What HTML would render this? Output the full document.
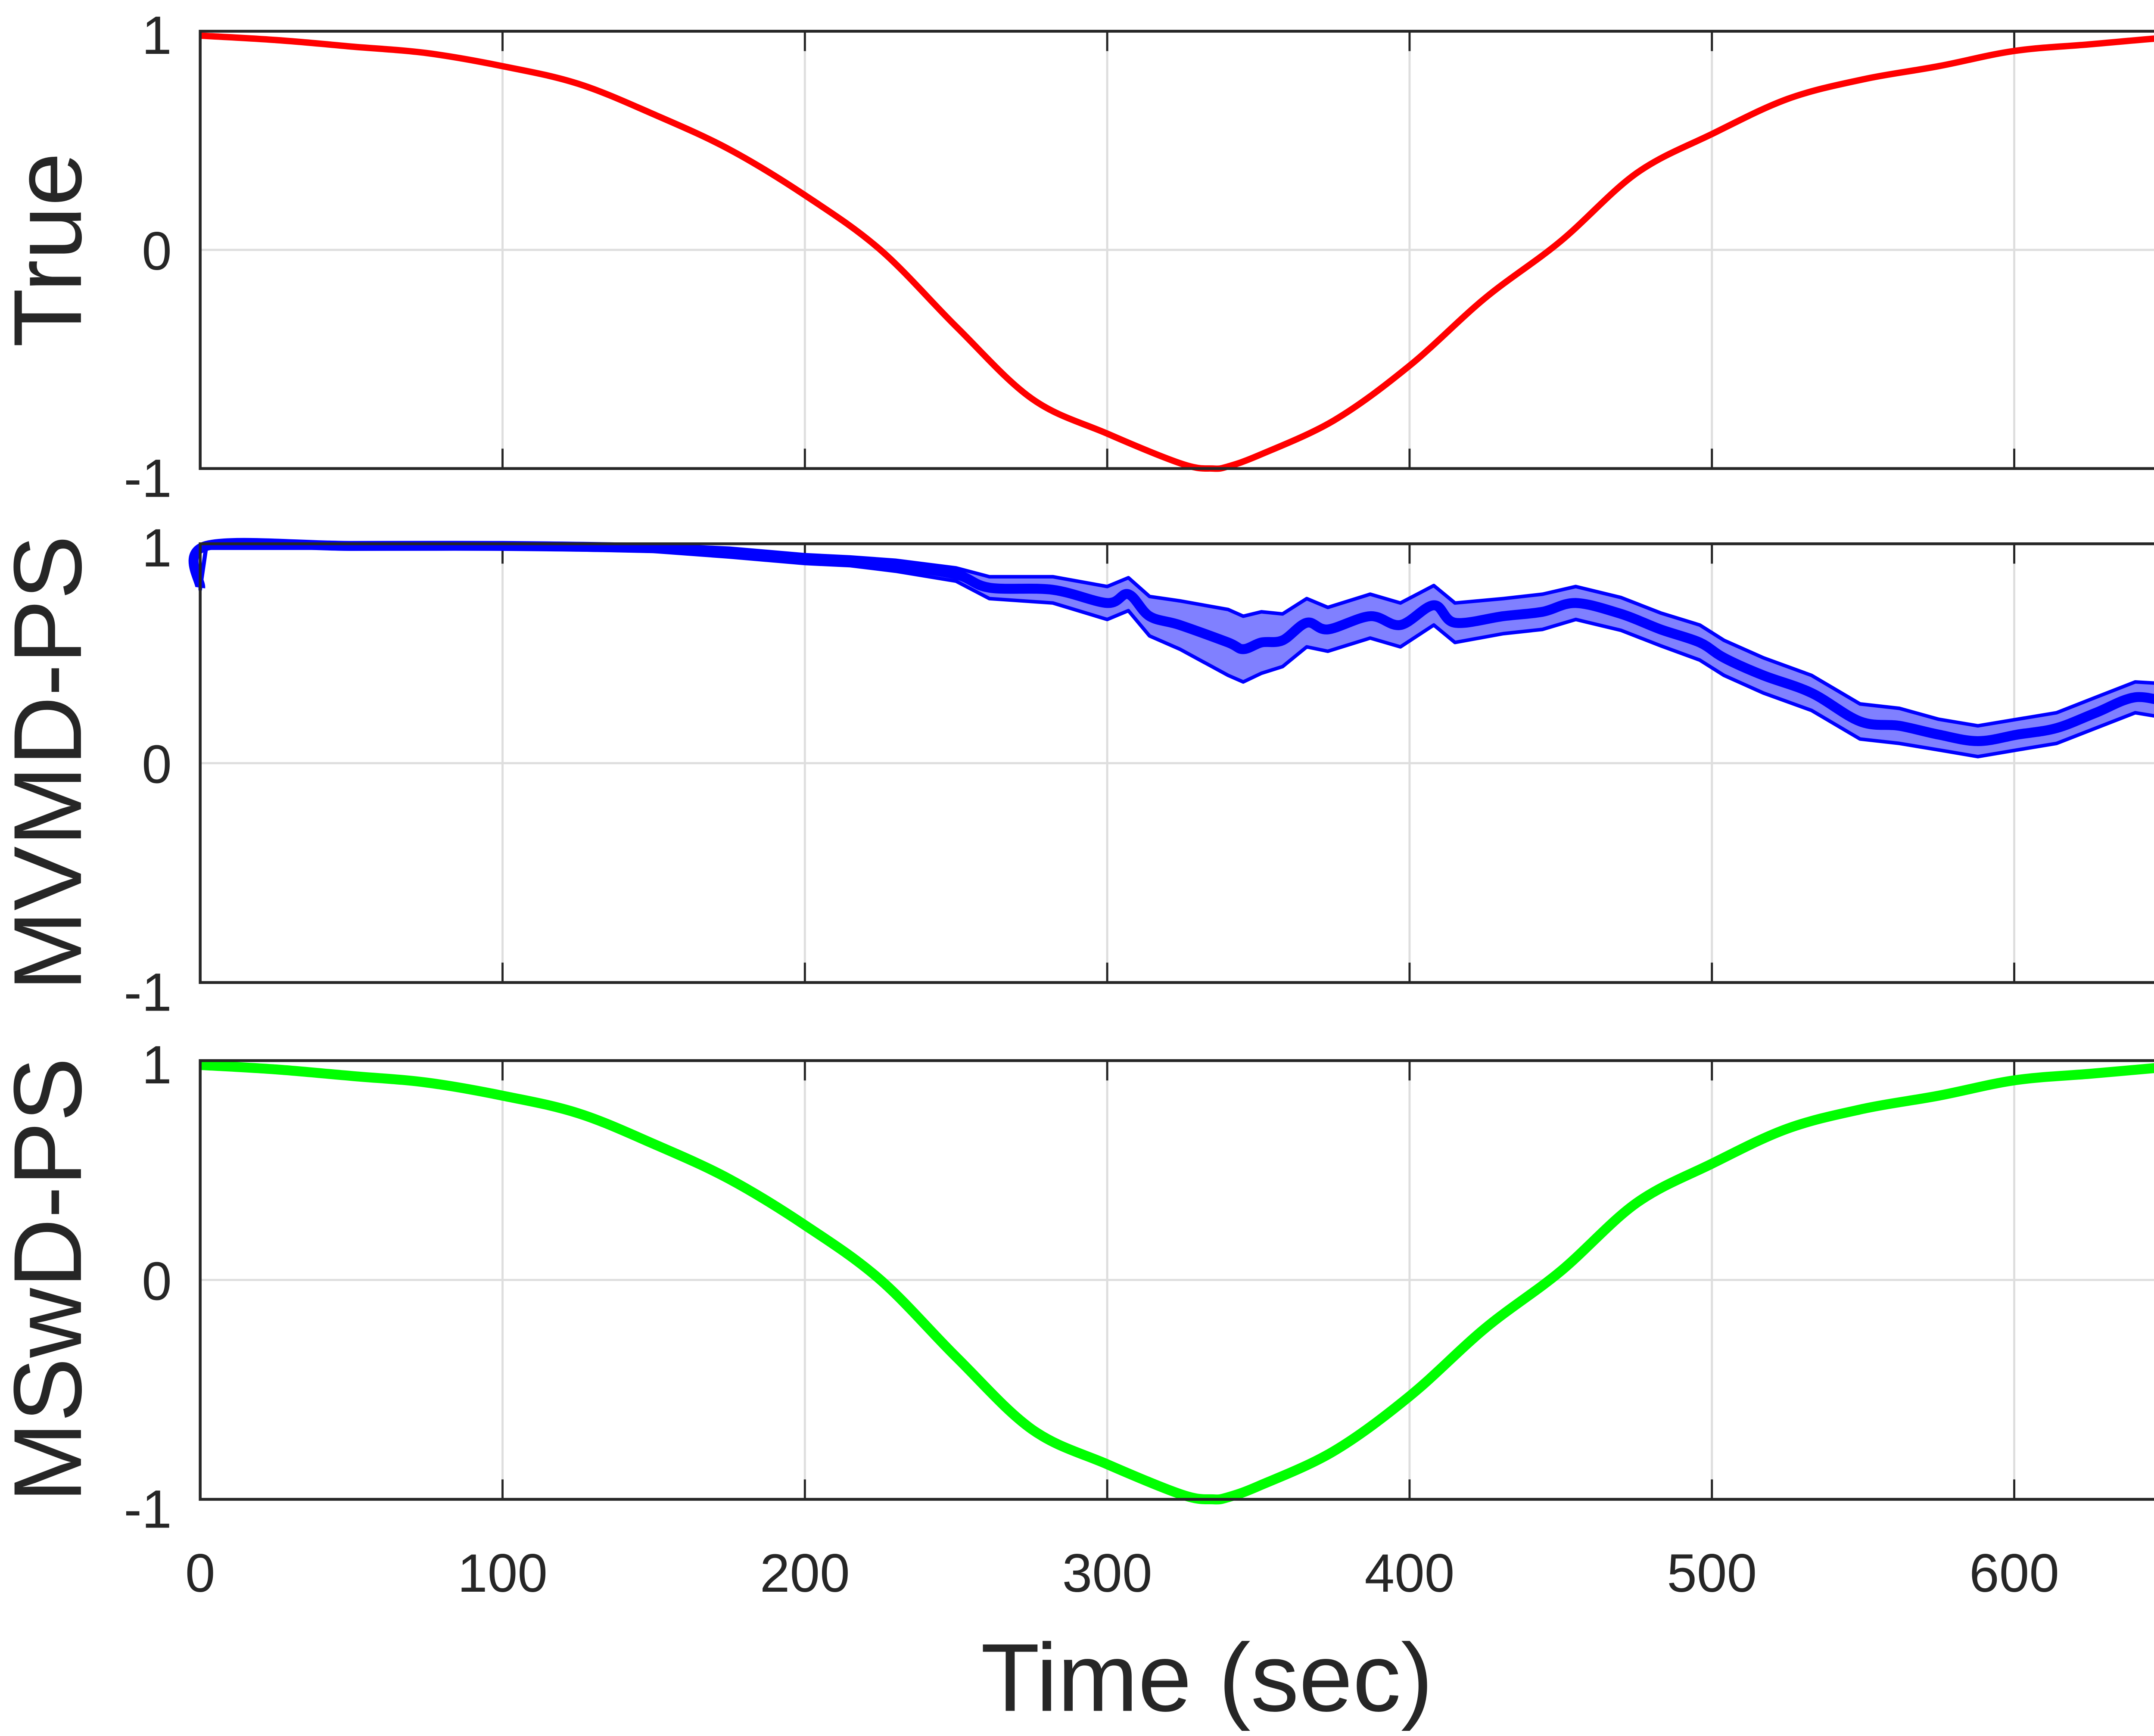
<!DOCTYPE html>
<html><head><meta charset="utf-8">
<style>
html,body{margin:0;padding:0;background:#fff;overflow:hidden;}
svg{display:block;}
text{font-family:"Liberation Sans",Arial,sans-serif;fill:#262626;}
</style></head>
<body>
<svg id="chart" xmlns="http://www.w3.org/2000/svg" width="5168" height="4030" viewBox="0 0 1568 1222.7" preserveAspectRatio="none">
<rect x="0" y="0" width="1568" height="1223" fill="#fff"/>
<g id="plots"></g>
</svg>
<script>
const xTicks = [0,100,200,300,400,500,600];
const yTicks = [-1,0,1];
const panelTitles = ["True","MVMD-PS","MSwD-PS"];
const trueT = [0,25,50,75,100,125,150,175,200,225,250,275,300,325,335,340,350,375,400,425,450,475,500,525,550,575,600,625,650,665];
const trueV = [0.98,0.96,0.93,0.90,0.84,0.76,0.62,0.46,0.25,0.00,-0.35,-0.68,-0.84,-0.98,-1.0,-0.99,-0.94,-0.78,-0.53,-0.22,0.04,0.35,0.53,0.69,0.78,0.84,0.91,0.94,0.97,0.98];
const greenT = [0,25,50,75,100,125,150,175,200,225,250,275,300,325,335,340,350,375,400,425,450,475,500,525,550,575,600,625,650,657,662,665];
const greenV = [0.98,0.96,0.93,0.90,0.84,0.76,0.62,0.46,0.25,0.00,-0.35,-0.68,-0.84,-0.98,-1.0,-0.99,-0.94,-0.78,-0.53,-0.22,0.04,0.35,0.53,0.69,0.78,0.84,0.91,0.94,0.97,0.98,0.97,0.90];
const blueT = [0,2,50,100,150,175,200,215,230,250,261,282,300,307,314,324,340,345,351,358,366,373,387,397,408,415,431,444,455,470,483,496,504,517,533,549,562,575,588,601,614,627,640,653,658,661,663,665];
const blueV = [0.80,0.99,0.99,0.99,0.98,0.96,0.93,0.92,0.90,0.86,0.80,0.79,0.73,0.77,0.67,0.63,0.55,0.52,0.55,0.56,0.64,0.61,0.67,0.63,0.72,0.64,0.67,0.69,0.73,0.68,0.61,0.55,0.48,0.40,0.32,0.19,0.17,0.13,0.10,0.13,0.16,0.23,0.30,0.28,0.35,0.51,0.30,0.06];
const blueBand = [0.01,0.01,0.01,0.01,0.015,0.02,0.02,0.02,0.025,0.03,0.05,0.06,0.075,0.075,0.09,0.11,0.15,0.15,0.14,0.12,0.11,0.1,0.1,0.1,0.09,0.09,0.08,0.08,0.075,0.075,0.075,0.08,0.08,0.08,0.08,0.08,0.08,0.07,0.07,0.07,0.07,0.07,0.07,0.08,0.1,0.15,0.1,0.05];

const NS="http://www.w3.org/2000/svg";
const L=141, R=1557;
const panels=[{top:22,bot:330},{top:383,bot:692},{top:747,bot:1056}];
const xs=t=>L+(t-0)/665*(R-L);
const g=document.getElementById('plots');
function mk(tag,attrs,parent){const e=document.createElementNS(NS,tag);for(const k in attrs)e.setAttribute(k,attrs[k]);(parent||g).appendChild(e);return e;}
// Catmull-Rom smoothing through data points
function path(T,V,ys){
  const P=T.map((t,i)=>[xs(t),ys(V[i])]);
  let d='M'+P[0][0].toFixed(1)+','+P[0][1].toFixed(1);
  for(let i=0;i<P.length-1;i++){
    const p0=P[Math.max(0,i-1)],p1=P[i],p2=P[i+1],p3=P[Math.min(P.length-1,i+2)];
    const c1=[p1[0]+(p2[0]-p0[0])/6,p1[1]+(p2[1]-p0[1])/6];
    const c2=[p2[0]-(p3[0]-p1[0])/6,p2[1]-(p3[1]-p1[1])/6];
    d+=' C'+c1[0].toFixed(1)+','+c1[1].toFixed(1)+' '+c2[0].toFixed(1)+','+c2[1].toFixed(1)+' '+p2[0].toFixed(1)+','+p2[1].toFixed(1);
  }
  return d;
}

panels.forEach((p,pi)=>{
  const ys=v=>p.top+(1-v)/2*(p.bot-p.top);
  const pg=mk('g',{});
  
  
  xTicks.forEach(t=>{
    const ln=mk('line',{x1:xs(t),x2:xs(t),y1:p.top,y2:p.bot,stroke:'#dedede','stroke-width':1.5},pg);
    
    
    const tk=mk('line',{x1:xs(t),x2:xs(t),y1:p.bot,y2:p.bot-14,stroke:'#262626','stroke-width':1.5},pg);
    
    
    const tk2=mk('line',{x1:xs(t),x2:xs(t),y1:p.top,y2:p.top+14,stroke:'#262626','stroke-width':1.5},pg);
    
    
  });
  yTicks.forEach(v=>{
    const ln=mk('line',{x1:L,x2:R,y1:ys(v),y2:ys(v),stroke:'#dedede','stroke-width':1.5},pg);
    
    
    const tx=mk('text',{x:121,y:ys(v)+14+(v===-1?6:0)+(v===1?2:0),'font-size':38,'text-anchor':'end'},pg);
    tx.textContent=String(v);
    
    
  });
  if(pi===0){
    const d=mk('path',{d:path(trueT,trueV,ys),fill:'none',stroke:'#ff0000','stroke-width':4.5,'stroke-linejoin':'round'},pg);
    
    
  } else if(pi===1){
    const up=blueT.map((t,i)=>xs(t).toFixed(1)+','+ys(blueV[i]+blueBand[i]).toFixed(1));
    const dn=blueT.map((t,i)=>xs(t).toFixed(1)+','+ys(blueV[i]-blueBand[i]).toFixed(1)).reverse();
    const band=mk('polygon',{points:up.concat(dn).join(' '),fill:'#8080ff',stroke:'#0000ff','stroke-width':2.5,'stroke-linejoin':'round'},pg);
    
    
    const d=mk('path',{d:path(blueT,blueV,ys),fill:'none',stroke:'#0000ff','stroke-width':7,'stroke-linejoin':'round'},pg);
    
    
  } else {
    const d=mk('path',{d:path(greenT,greenV,ys),fill:'none',stroke:'#00ff00','stroke-width':7,'stroke-linejoin':'round'},pg);
    
    
  }
  const box=mk('rect',{x:L,y:p.top,width:R-L,height:p.bot-p.top,fill:'none',stroke:'#262626','stroke-width':2},pg);
  
  
  const cy=(p.top+p.bot)/2;
  const tt=mk('text',{x:0,y:0,'font-size':68,'text-anchor':'middle',transform:'translate(57,'+cy+') rotate(-90)'},pg);
  tt.textContent=panelTitles[pi];
  
  
});
xTicks.forEach(t=>{
  const tx=mk('text',{x:xs(t),y:1121,'font-size':38,'text-anchor':'middle'});
  tx.textContent=String(t);
  
  
});
const xt=mk('text',{x:850,y:1205,'font-size':68,'text-anchor':'middle'});
xt.textContent='Time (sec)';


</script>
</body></html>
